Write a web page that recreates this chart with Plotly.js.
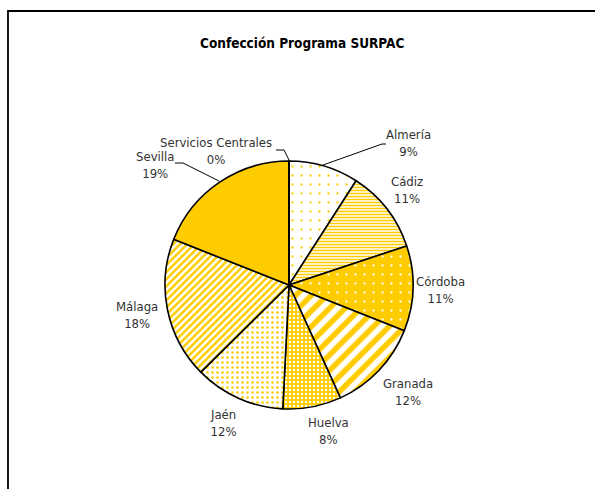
<!DOCTYPE html>
<html>
<head>
<meta charset="utf-8">
<script src="https://cdn.plot.ly/plotly-3.0.1.min.js"></script>
<style>html,body{margin:0;padding:0;background:#fff;}#chart{width:595px;height:489px;}</style>
</head>
<body>
<div id="chart"></div>
<script>
// ---- data ----
const categories = ["Almería", "Cádiz", "Córdoba", "Granada", "Huelva", "Jaén", "Málaga", "Sevilla", "Servicios Centrales"];
const values = [9.1, 10.8, 11.1, 12.2, 7.6, 11.8, 18.4, 19.0, 0];
const chartTitle = "Confección Programa SURPAC";

// ---- styles ----
const Y = "#FFCC00", W = "#FFFFFF";
const bgColors = [W, W, Y, W, Y, W, W, Y, W];
const fgColors = [Y, Y, W, Y, W, Y, Y, Y, Y];
const shapes = [".", "-", ".", "/", ".", ".", "/", "", ""];
const sizes = [9, 3, 9, 11, 4, 5, 5, 8, 8];
const solidities = [0.05, 0.5, 0.05, 0.5, 0.3, 0.22, 0.5, 0.3, 0.3];
// label centre positions (pixels) for each category
const labelPos = [[408,143],[407,190],[440,290],[408,392],[328,431],[223,423],[137,315],[155,165],[216,151]];

const FW = 595, FH = 489;
const px = x => x / FW, py = y => 1 - y / FH;
const total = values.reduce((a, b) => a + b, 0);
const font = "'Liberation Sans Narrow', 'Arial Narrow', 'DejaVu Sans Condensed', sans-serif";

const cx = 289, cy = 285, R = 124;
const trace = {
  type: "pie",
  labels: categories,
  values: values,
  sort: false,
  direction: "clockwise",
  rotation: 0,
  textinfo: "none",
  hoverinfo: "label+percent",
  domain: {x: [px(cx - R), px(cx + R)], y: [py(cy + R), py(cy - R)]},
  marker: {
    colors: bgColors,
    line: {color: "#000", width: 1.6},
    pattern: {shape: shapes, fgcolor: fgColors, bgcolor: bgColors, size: sizes, solidity: solidities, fillmode: "replace"}
  },
  showlegend: false
};

const annotations = categories.map((c, i) => ({
  text: c + "<br>" + Math.round(values[i] / total * 100) + "%",
  x: px(labelPos[i][0]), y: py(labelPos[i][1]),
  xref: "paper", yref: "paper", showarrow: false,
  xanchor: "center", yanchor: "middle", align: "center",
  font: {family: font, size: 13, color: "#333"}
}));
annotations.push({
  text: "<b>" + chartTitle + "</b>", x: px(302), y: py(43), xref: "paper", yref: "paper",
  showarrow: false, xanchor: "center", yanchor: "middle",
  font: {family: font, size: 13.5, color: "#000"}
});

const line = (pts) => ({
  type: "path", xref: "paper", yref: "paper",
  path: pts.map((p, i) => (i ? "L" : "M") + px(p[0]) + "," + py(p[1])).join(" "),
  line: {color: "#000", width: 1}
});

const layout = {
  width: FW, height: FH,
  margin: {l: 0, r: 0, t: 0, b: 0},
  paper_bgcolor: "#fff",
  annotations: annotations,
  shapes: [
    {type: "rect", xref: "paper", yref: "paper", x0: px(8), x1: px(620), y0: py(520), y1: py(11),
     line: {color: "#000", width: 1.8}, fillcolor: "rgba(0,0,0,0)"},
    line([[323, 165], [382, 144], [386, 144]]),
    line([[219, 181], [183, 163], [175, 163]]),
    line([[289, 160], [284, 150], [276, 150]])
  ]
};

Plotly.newPlot("chart", [trace], layout, {staticPlot: true});
</script>
</body>
</html>
